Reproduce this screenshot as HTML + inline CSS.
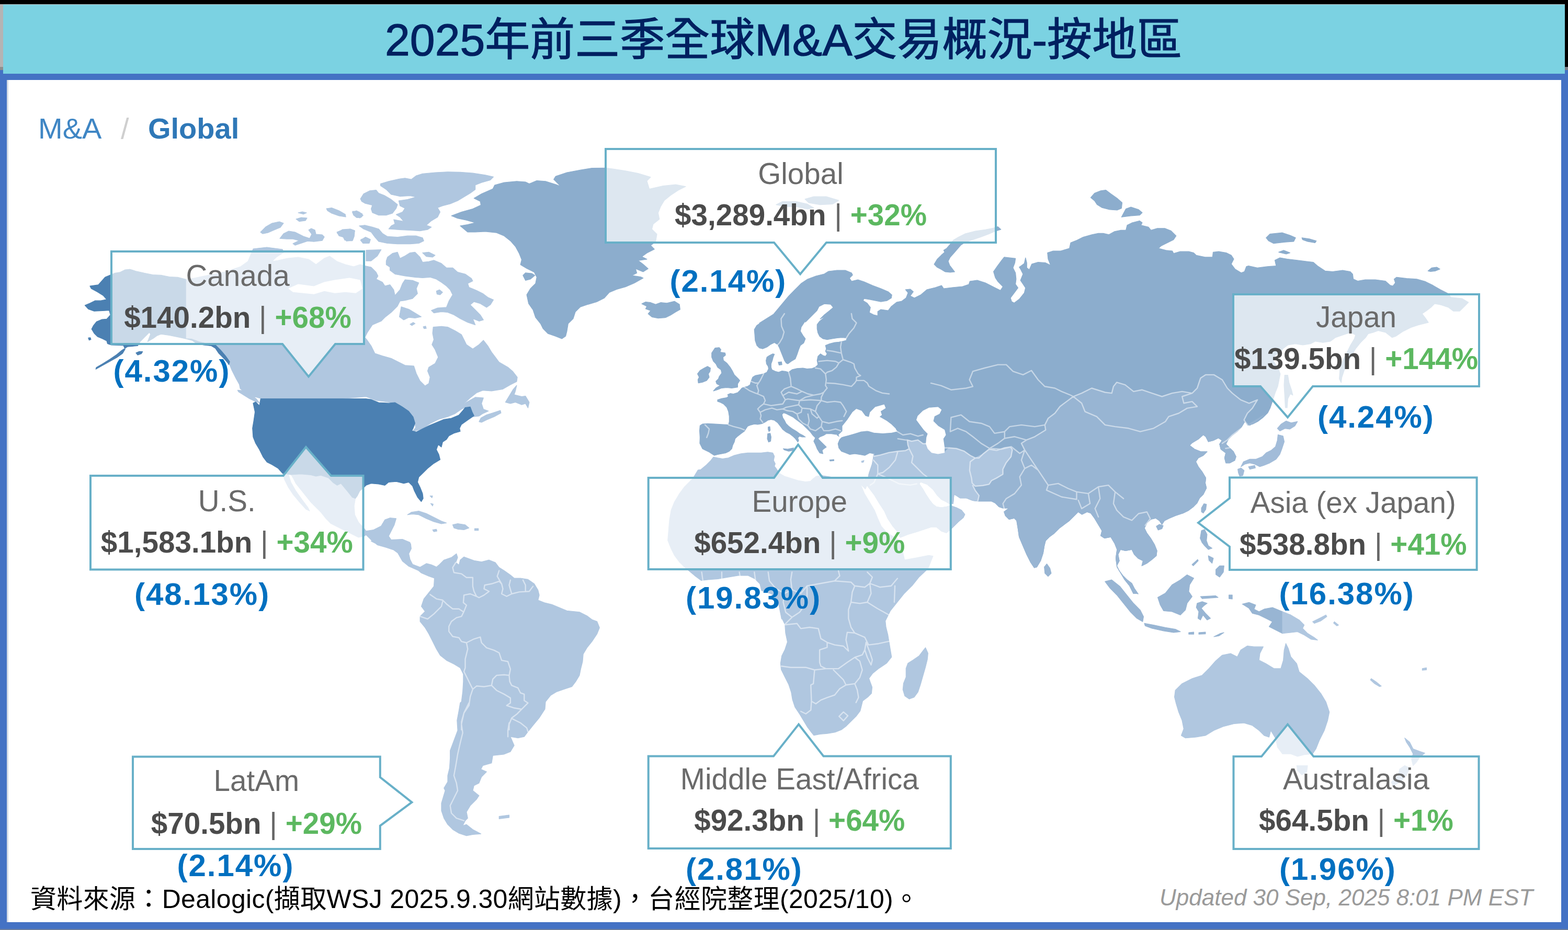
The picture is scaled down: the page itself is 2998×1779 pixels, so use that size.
<!DOCTYPE html>
<html lang="zh-Hant"><head><meta charset="utf-8"><title>2025年前三季全球M&amp;A交易概況-按地區</title>
<style>
html,body{margin:0;padding:0;background:#fff;}
body{width:2998px;height:1779px;position:relative;overflow:hidden;font-family:"Liberation Sans",sans-serif;}
#black{position:absolute;left:0;top:0;width:2998px;height:134px;background:#000;}
#grayl{position:absolute;left:0;top:8px;width:8px;height:121px;background:#b4b4b4;}
#grayl2{position:absolute;left:0;top:128px;width:8px;height:6px;background:#8e8e8e;}
#grayr2{position:absolute;left:2990px;top:128px;width:8px;height:6px;background:#7e7e86;}
#frame{position:absolute;left:0;top:134px;width:2998px;height:1644px;background:#4472c4;}
#botline{position:absolute;left:0;top:1777px;width:2998px;height:2px;background:#6d7f9f;}
#inner{position:absolute;left:13px;top:153px;width:2972px;height:1611px;background:#fff;}
#innerl{position:absolute;left:13px;top:153px;width:3px;height:1611px;background:#d5dbe6;}
#titlebar{position:absolute;left:6px;top:9px;width:2986px;height:132px;background:#7bd2e2;}
#grayt{position:absolute;left:0;top:8px;width:2992px;height:2px;background:#b7bcbd;}
svg{position:absolute;left:0;top:0;}
.t{position:absolute;white-space:nowrap;line-height:1;}
.nm{color:#6a6a6a;font-size:56.6px;text-align:center;}
.vl{color:#4b4b4b;font-size:56.6px;font-weight:bold;text-align:center;}
.vl i{font-style:normal;color:#5cb860;}
.vl b{font-weight:normal;color:#666;}
.sh{color:#0070c0;font-size:60px;font-weight:bold;letter-spacing:1.95px;}
</style></head><body>
<div id="black"></div><div id="grayt"></div><div id="grayl"></div><div id="grayl2"></div><div id="grayr2"></div>
<div id="frame"></div><div id="botline"></div><div id="inner"></div><div id="innerl"></div><div id="titlebar"></div>

<svg id="map" width="2998" height="1779" viewBox="0 0 2998 1779" xmlns="http://www.w3.org/2000/svg">
<path fill="#8cadcd" stroke="#8cadcd" stroke-width="1.2" stroke-linejoin="round" d="M999.9,526.7 1004.7,521.9 1016.7,523.1 1022.7,526.7 1014.3,533.9 1004.7,536.3Z M863.1,412.8 882.3,405.6 903.9,399.6 919.5,392.4 918.3,385.2 906.3,379.2 920.7,370.8 942.3,361.2 945.9,354.0 963.9,349.2 987.9,346.8 1004.7,348.0 1011.9,351.6 1026.3,345.6 1043.1,346.8 1062.3,352.8 1071.9,356.4 1058.7,343.2 1062.3,337.2 1083.9,330.0 1110.2,325.2 1131.8,321.6 1157.6,321.3 1172.0,323.2 1196.0,326.8 1220.0,331.6 1244.0,338.8 1236.8,346.0 1241.6,361.6 1267.9,355.6 1291.9,353.2 1311.1,356.8 1296.7,364.0 1282.3,373.6 1270.3,383.2 1263.1,395.2 1258.3,407.2 1260.7,419.2 1248.8,428.8 1246.4,438.3 1256.0,447.9 1253.6,462.3 1244.0,469.5 1251.2,476.7 1236.8,483.9 1227.2,491.1 1236.8,495.9 1220.0,498.3 1229.6,505.5 1239.2,513.9 1229.6,519.9 1215.2,513.9 1217.6,522.3 1208.0,527.1 1224.8,529.5 1229.6,531.9 1212.8,541.5 1196.0,548.7 1179.2,553.5 1164.8,559.5 1155.2,570.3 1140.8,577.5 1124.0,582.3 1109.6,587.1 1100.0,596.7 1095.9,609.5 1086.3,619.1 1083.9,633.5 1081.5,643.1 1074.3,647.9 1062.3,643.1 1047.9,638.3 1038.3,628.7 1033.5,619.1 1023.9,607.1 1019.1,592.7 1010.7,580.7 1007.1,563.9 1014.3,551.9 1023.9,542.3 1026.3,530.3 1021.5,520.7 1007.1,513.5 995.1,506.3 997.5,496.7 992.7,484.7 985.5,471.5 975.9,460.7 963.9,451.2 949.5,445.2 927.9,442.8 908.7,444.0 894.3,444.0 879.9,432.0 894.3,429.6 908.7,426.0 891.9,421.2 875.1,417.6Z M1483.9,391.6 1495.9,385.6 1522.3,385.6 1543.9,390.4 1555.9,397.6 1543.9,400.0 1522.3,395.2 1503.1,395.2Z M1539.1,380.8 1555.9,376.0 1579.8,376.0 1603.8,383.2 1591.8,390.4 1567.9,391.6 1546.3,388.0Z M1227.2,581.1 1234.4,577.5 1244.0,578.7 1253.6,582.3 1263.1,578.7 1275.1,579.9 1289.5,576.3 1299.1,582.3 1300.3,591.9 1291.9,596.7 1282.3,602.7 1272.7,607.5 1258.3,608.7 1246.4,606.3 1239.2,600.3 1244.0,594.3 1234.4,590.7 1236.8,585.9Z M1338.4,837.0 1337.6,823.9 1338.4,814.3 1343.2,811.1 1352.8,810.3 1367.2,811.1 1380.0,811.9 1392.8,812.7 1394.4,806.3 1394.4,796.7 1392.8,787.1 1389.6,779.1 1383.2,772.7 1376.8,769.5 1372.0,767.9 1372.0,764.7 1380.0,762.3 1389.6,760.7 1392.8,758.3 1391.2,755.1 1396.0,752.7 1402.4,753.5 1410.4,751.1 1415.2,746.3 1418.4,742.3 1423.2,740.7 1429.5,739.1 1434.3,735.9 1435.9,729.5 1439.1,721.6 1443.9,718.4 1451.9,716.8 1459.9,715.2 1466.3,712.0 1469.5,705.6 1468.7,700.8 1465.5,696.0 1464.7,689.6 1466.3,683.2 1471.1,680.0 1477.5,676.8 1480.7,677.6 1478.3,683.2 1476.7,689.6 1474.3,696.0 1474.3,702.4 1475.9,707.2 1482.3,710.4 1488.7,712.0 1495.1,709.6 1501.5,710.4 1507.9,712.0 1514.3,707.2 1523.9,704.8 1535.1,704.0 1543.1,705.6 1552.7,704.8 1559.1,702.4 1563.9,697.6 1562.3,689.6 1563.9,681.6 1568.7,676.8 1573.5,680.0 1578.3,681.6 1581.5,676.8 1578.3,672.0 1579.9,667.2 1578.3,660.8 1586.3,657.6 1595.9,655.2 1603.9,654.4 1611.9,652.8 1618.3,651.2 1619.1,646.4 1610.3,645.6 1600.7,646.4 1591.1,648.0 1581.5,649.6 1573.5,648.0 1567.1,643.2 1563.9,636.8 1562.3,628.8 1562.3,620.8 1567.1,614.4 1575.1,608.0 1583.1,603.2 1587.9,600.0 1568.1,610.1 1568.1,610.1 1576.1,602.1 1586.1,594.1 1593.2,588.1 1588.2,582.1 1576.1,581.1 1566.1,586.1 1562.1,594.1 1556.1,600.1 1548.1,608.1 1540.1,616.1 1554.3,600.0 1546.3,608.0 1538.3,616.0 1531.9,625.6 1530.3,633.6 1535.1,641.6 1539.9,648.0 1536.7,656.0 1530.3,660.8 1527.1,668.8 1523.9,678.4 1520.7,686.4 1512.7,691.2 1506.3,696.0 1503.1,694.4 1499.9,689.6 1496.7,681.6 1493.5,673.6 1490.3,665.6 1487.1,659.2 1480.7,655.2 1472.7,659.2 1466.3,664.0 1458.3,667.2 1451.9,665.6 1447.1,660.8 1443.9,651.2 1443.1,640.0 1442.3,630.4 1447.1,622.4 1456.7,616.0 1466.3,609.6 1475.9,603.2 1480.7,600.0 1452.0,618.1 1466.1,610.1 1478.1,602.1 1488.1,590.1 1498.1,578.1 1508.1,566.1 1520.1,554.0 1532.1,542.0 1544.1,534.0 1560.1,528.0 1576.1,524.0 1584.1,519.0 1600.2,517.0 1616.2,517.0 1628.2,522.0 1630.2,526.0 1624.2,532.0 1628.2,538.0 1640.2,535.0 1652.2,539.0 1668.2,546.0 1684.2,552.0 1698.2,558.0 1705.2,564.1 1704.2,570.1 1696.2,575.1 1684.2,577.1 1674.2,575.1 1664.2,573.1 1652.2,571.1 1650.2,575.1 1658.2,580.1 1664.2,588.1 1662.2,598.1 1670.2,602.1 1678.2,604.1 1678.2,596.1 1684.2,592.1 1698.2,594.1 1704.2,586.1 1714.3,578.1 1724.3,576.1 1732.3,570.1 1736.3,560.0 1731.3,554.0 1740.3,553.0 1746.3,558.0 1740.3,566.1 1748.3,570.1 1760.3,564.1 1772.3,554.0 1788.3,550.0 1800.3,546.0 1804.3,552.0 1820.3,550.0 1840.4,548.0 1852.4,544.0 1854.4,538.0 1868.4,536.0 1884.0,541.1 1903.2,550.7 1912.8,555.5 1917.6,548.3 1908.0,538.7 1903.2,531.5 1899.6,519.5 1908.0,507.5 1915.2,497.9 1920.0,491.9 1941.6,494.3 1940.4,502.7 1936.8,512.3 1941.6,521.9 1942.8,533.9 1941.6,543.5 1946.4,550.7 1939.2,560.3 1932.0,569.9 1934.4,577.1 1939.2,579.5 1948.8,572.3 1958.4,560.3 1960.8,550.7 1956.0,543.5 1951.2,536.3 1956.0,524.3 1951.2,514.7 1948.8,511.1 1958.4,503.9 1960.8,493.1 1963.2,502.7 1963.2,512.3 1968.0,515.9 1972.8,505.1 1984.8,501.5 1999.2,502.7 2008.8,507.5 2004.0,495.5 2002.8,483.6 2013.6,480.0 2027.9,480.0 2044.7,475.2 2047.1,464.4 2059.1,459.6 2071.1,453.6 2087.9,448.8 2099.9,446.4 2109.5,446.4 2120.3,448.8 2131.1,442.8 2143.1,440.4 2152.7,440.4 2155.1,430.8 2164.7,426.0 2179.1,422.4 2183.9,426.0 2181.5,430.8 2195.9,434.4 2200.7,440.4 2212.7,436.8 2227.1,436.8 2239.1,441.6 2248.7,451.2 2243.9,458.4 2231.9,464.4 2219.9,470.4 2215.1,475.2 2229.5,478.8 2241.5,480.0 2243.9,484.8 2255.9,481.2 2272.7,481.2 2282.3,483.6 2287.1,488.3 2303.9,491.9 2318.3,491.9 2319.5,482.4 2330.2,481.2 2344.6,483.6 2354.2,488.3 2359.0,495.5 2354.2,505.1 2361.4,514.7 2373.4,521.9 2379.4,519.5 2383.0,509.9 2387.2,508.7 2404.0,512.3 2423.2,509.9 2440.0,508.7 2437.6,497.9 2447.2,493.1 2461.6,495.5 2480.8,497.9 2500.0,500.3 2510.8,501.5 2519.2,508.7 2533.6,518.3 2547.9,519.5 2567.1,517.1 2581.5,519.5 2586.3,524.3 2587.5,533.9 2595.9,537.5 2610.3,535.1 2629.5,535.1 2648.7,537.5 2658.3,545.9 2663.1,547.1 2667.9,541.1 2665.5,533.9 2670.3,530.3 2689.5,532.7 2708.7,533.9 2725.5,538.7 2739.9,545.9 2754.3,554.3 2768.7,561.5 2774.2,568.8 2795.8,571.2 2807.8,578.4 2800.6,585.6 2791.0,595.2 2779.0,595.2 2769.4,588.0 2755.0,583.2 2743.1,580.8 2735.9,588.0 2726.3,595.2 2719.1,600.0 2726.3,609.6 2731.1,616.8 2711.9,621.6 2697.5,626.4 2683.1,633.6 2668.7,643.2 2661.5,645.6 2649.5,636.0 2635.1,632.4 2625.5,636.0 2615.9,638.4 2611.1,645.6 2601.5,655.2 2591.9,667.2 2584.7,679.2 2577.5,693.6 2570.3,707.9 2565.5,722.3 2564.3,731.9 2560.7,724.7 2561.9,707.9 2567.9,688.8 2575.1,674.4 2582.3,660.0 2589.5,648.0 2591.9,640.8 2582.3,636.0 2567.9,640.8 2553.5,645.6 2543.9,652.8 2529.5,655.2 2515.1,652.8 2505.5,657.6 2491.1,660.0 2476.7,657.6 2462.3,660.0 2452.7,667.2 2447.9,674.4 2438.3,679.2 2433.6,688.8 2443.1,703.1 2447.9,715.1 2445.5,727.1 2443.1,739.1 2438.3,751.1 2433.6,765.5 2428.8,779.9 2424.0,789.5 2414.4,799.1 2404.8,806.3 2395.2,811.1 2385.6,813.5 2415.9,794.4 2401.5,806.4 2389.5,813.6 2379.9,806.4 2372.7,818.4 2365.5,825.6 2355.9,832.8 2348.7,840.0 2343.9,849.6 2351.1,856.8 2358.3,864.0 2363.1,873.6 2360.7,880.8 2351.1,885.6 2343.9,885.6 2341.5,876.0 2343.9,866.4 2334.3,859.2 2331.9,849.6 2336.7,842.4 2329.5,837.6 2319.9,842.4 2310.3,844.8 2305.5,835.2 2300.7,831.6 2291.1,840.0 2279.1,847.2 2274.3,852.0 2283.9,859.2 2295.9,864.0 2307.9,864.0 2300.7,871.2 2291.1,876.0 2286.3,883.2 2291.1,892.8 2298.3,902.4 2305.5,914.4 2304.3,924.0 2306.7,933.6 2300.7,945.5 2293.5,952.7 2288.7,962.3 2281.5,969.5 2271.9,976.7 2262.3,981.5 2247.9,986.3 2236.0,991.1 2226.4,995.9 2221.6,1003.1 2216.8,995.9 2209.6,991.1 2200.0,993.5 2192.8,1000.7 2188.0,1010.3 2192.8,1019.9 2200.0,1029.5 2207.2,1041.5 2212.0,1053.5 2210.8,1063.1 2202.4,1070.3 2192.8,1077.5 2183.2,1082.3 2185.6,1072.7 2176.0,1067.9 2168.8,1060.7 2164.0,1051.1 2152.0,1053.5 2142.4,1051.1 2137.6,1060.7 2140.0,1072.7 2135.2,1082.3 2140.0,1091.9 2147.2,1101.5 2154.4,1108.7 2164.0,1115.9 2168.8,1125.5 2176.0,1136.0 2174.3,1135.5 2167.2,1135.5 2159.8,1120.7 2150.2,1108.7 2143.1,1096.7 2135.9,1084.7 2133.5,1067.9 2135.9,1051.1 2131.1,1039.1 2123.9,1027.1 2111.9,1029.5 2104.7,1024.7 2107.1,1015.1 2099.9,1003.1 2092.7,991.1 2085.5,981.5 2078.3,979.1 2068.7,983.9 2061.5,979.1 2054.3,986.3 2044.7,995.9 2035.1,1003.1 2025.5,1010.3 2015.9,1019.9 2006.3,1027.1 1999.1,1034.3 1996.7,1043.9 1994.3,1058.3 1989.5,1072.7 1982.3,1084.7 1977.5,1085.9 1970.3,1075.1 1963.1,1060.7 1955.9,1043.9 1948.7,1027.1 1946.3,1010.3 1943.9,995.9 1939.1,991.1 1929.5,993.5 1922.3,986.3 1919.9,979.1 1929.5,971.9 1917.5,971.9 1910.3,969.5 1903.1,962.3 1895.9,958.7 1881.5,958.7 1869.5,958.7 1859.9,957.5 1847.9,952.7 1836.0,952.7 1828.8,947.9 1824.0,945.5 1822.3,963.2 1815.9,964.0 1809.5,960.0 1799.9,955.2 1791.9,947.2 1783.9,936.0 1772.7,926.4 1759.9,921.6 1757.5,925.6 1764.7,936.0 1771.1,947.2 1777.5,956.8 1783.9,964.8 1790.3,969.6 1799.9,971.2 1809.5,969.6 1817.5,967.2 1828.7,971.2 1838.3,976.0 1844.7,984.0 1841.5,990.4 1831.9,998.4 1823.9,1006.3 1817.5,1012.7 1809.5,1019.1 1799.9,1015.9 1790.3,1007.9 1780.7,1007.9 1766.3,1012.7 1751.9,1017.5 1735.9,1022.3 1721.5,1027.9 1715.1,1015.9 1707.1,1006.3 1697.5,992.0 1691.1,977.6 1681.6,963.2 1672.0,947.2 1662.4,934.4 1657.6,928.0 1654.4,935.2 1647.6,928.0 1647.2,920.0 1659.9,914.3 1661.5,906.3 1664.7,896.7 1667.9,887.1 1669.5,877.5 1671.1,867.9 1663.1,866.3 1653.5,871.1 1643.9,869.5 1634.3,867.9 1624.7,869.5 1616.7,866.3 1608.7,863.2 1603.9,856.8 1602.3,848.8 1605.5,840.8 1610.3,836.0 1603.9,834.4 1599.1,831.2 1589.5,829.6 1579.9,829.6 1575.1,832.8 1567.1,836.0 1563.9,839.2 1570.3,845.6 1576.7,852.0 1579.9,855.2 1575.1,858.4 1571.9,861.6 1573.5,867.9 1567.1,866.3 1562.3,858.4 1559.1,850.4 1555.9,844.0 1559.1,837.6 1554.3,832.8 1549.5,826.4 1544.7,821.6 1539.9,816.8 1535.1,812.0 1528.7,807.2 1522.3,802.4 1515.9,797.6 1509.5,794.4 1503.1,791.2 1498.3,789.6 1495.1,792.8 1496.7,799.2 1499.9,804.0 1503.1,810.4 1507.9,815.2 1514.3,820.0 1522.3,824.8 1528.7,829.6 1535.1,832.8 1539.9,836.0 1533.5,836.0 1528.7,834.4 1525.5,837.6 1527.1,842.4 1525.5,845.6 1520.7,839.2 1515.9,834.4 1509.5,829.6 1503.1,826.4 1496.7,821.6 1491.9,815.2 1487.1,808.8 1480.7,804.0 1474.3,802.4 1467.9,804.0 1463.2,807.2 1456.8,810.4 1448.8,812.0 1442.4,811.2 1436.0,812.8 1429.6,815.2 1426.4,820.0 1423.2,824.8 1416.8,829.6 1410.4,834.4 1405.6,839.2 1404.0,845.6 1400.8,852.0 1399.2,858.4 1394.4,863.2 1388.0,866.3 1380.0,867.9 1372.0,869.5 1365.6,871.1 1360.8,867.9 1356.0,864.8 1349.6,861.6 1343.2,858.4 1338.0,848.0Z M1364.0,670.4 1367.2,665.6 1375.2,664.8 1378.4,668.8 1376.8,673.6 1386.4,675.2 1387.2,679.2 1382.4,683.2 1383.2,689.6 1389.6,694.4 1396.0,702.4 1400.8,710.4 1404.0,716.8 1412.0,724.8 1414.4,727.9 1410.4,734.3 1410.4,740.7 1399.2,742.3 1389.6,741.5 1380.0,742.3 1372.0,745.5 1364.0,747.9 1368.8,742.3 1376.8,737.5 1370.4,734.3 1368.8,729.5 1373.6,724.8 1375.2,720.0 1380.0,713.6 1378.4,707.2 1372.0,702.4 1368.8,696.0 1364.0,691.2 1360.8,683.2 1360.8,675.2Z M1333.6,715.2 1338.4,708.8 1346.4,704.0 1352.8,700.8 1358.4,704.0 1357.6,710.4 1354.4,715.2 1356.0,721.6 1351.2,727.9 1343.2,731.1 1335.2,732.7 1334.4,726.3 1336.8,721.6Z M1487.9,692.8 1494.3,692.0 1495.1,697.6 1489.5,698.4Z M1497.5,858.4 1506.3,859.2 1517.5,856.8 1515.9,861.6 1507.9,863.2 1499.9,860.8Z M1467.9,829.6 1472.7,828.8 1474.3,836.0 1473.5,844.0 1469.5,845.6 1467.1,839.2Z M1468.7,816.8 1471.9,816.0 1472.7,823.2 1470.3,825.6 1468.7,821.6Z M1586.3,879.9 1594.3,879.1 1594.3,881.5 1587.1,882.0Z M1786.1,505.6 1791.8,496.0 1799.5,488.3 1806.2,482.5 1804.3,478.7 1810.1,474.9 1816.8,467.2 1822.5,459.5 1832.1,453.7 1845.6,447.0 1864.8,442.2 1884.0,439.3 1898.3,436.5 1907.9,433.6 1913.7,438.9 1903.1,442.2 1889.7,448.0 1874.4,453.7 1860.0,458.5 1845.6,463.3 1836.9,469.1 1830.2,476.8 1823.5,484.5 1816.8,492.1 1812.9,499.8 1815.8,507.5 1821.6,515.2 1825.4,520.0 1816.8,520.9 1807.2,520.0 1799.5,515.2 1791.8,511.3Z M2085.5,378.0 2092.7,369.6 2104.7,364.8 2114.3,363.6 2123.9,370.8 2135.9,379.2 2145.5,387.6 2144.3,398.4 2135.9,402.0 2121.5,400.8 2107.1,397.2 2097.5,391.2 2092.7,384.0Z M2144.3,415.2 2152.7,399.6 2162.3,396.0 2176.7,400.8 2183.9,406.8 2179.1,411.6 2162.3,412.8Z M2420.8,454.8 2428.0,447.6 2452.0,445.2 2466.4,450.0 2477.2,454.8 2473.6,462.0 2456.8,463.2 2435.2,465.6 2425.6,460.8Z M2489.2,454.8 2504.8,457.2 2516.8,460.8 2514.4,464.4 2500.0,462.0 2490.4,458.4Z M2444.8,482.4 2454.4,478.8 2466.4,483.6 2459.2,486.0Z M2730.3,518.3 2737.5,512.3 2747.1,511.1 2753.1,514.7 2744.7,518.3 2735.1,519.5Z M2456.3,717.5 2462.3,717.5 2464.7,731.9 2469.5,746.3 2471.9,755.9 2467.1,753.5 2462.3,763.1 2461.1,779.9 2457.5,779.9 2456.3,755.9 2455.1,736.7Z"/>
<path fill="#98b5d3" stroke="#98b5d3" stroke-width="1.2" stroke-linejoin="round" d="M2415.9,794.4 2401.5,806.4 2389.5,813.6 2379.9,806.4 2372.7,818.4 2365.5,825.6 2355.9,832.8 2348.7,840.0 2343.9,849.6 2351.1,856.8 2358.3,864.0 2363.1,873.6 2360.7,880.8 2351.1,885.6 2343.9,885.6 2341.5,876.0 2343.9,866.4 2334.3,859.2 2331.9,849.6 2336.7,842.4 2329.5,837.6 2319.9,842.4 2310.3,844.8 2305.5,835.2 2300.7,831.6 2291.1,840.0 2279.1,847.2 2274.3,852.0 2283.9,859.2 2295.9,864.0 2307.9,864.0 2300.7,871.2 2291.1,876.0 2286.3,883.2 2291.1,892.8 2298.3,902.4 2305.5,914.4 2304.3,924.0 2306.7,933.6 2300.7,945.5 2293.5,952.7 2288.7,962.3 2281.5,969.5 2271.9,976.7 2262.3,981.5 2247.9,986.3 2236.0,991.1 2226.4,995.9 2221.6,1003.1 2216.8,995.9 2209.6,991.1 2200.0,993.5 2192.8,1000.7 2188.0,1010.3 2192.8,1019.9 2200.0,1029.5 2207.2,1041.5 2212.0,1053.5 2210.8,1063.1 2202.4,1070.3 2192.8,1077.5 2183.2,1082.3 2185.6,1072.7 2176.0,1067.9 2168.8,1060.7 2164.0,1051.1 2152.0,1053.5 2142.4,1051.1 2137.6,1060.7 2140.0,1072.7 2135.2,1082.3 2140.0,1091.9 2147.2,1101.5 2154.4,1108.7 2164.0,1115.9 2168.8,1125.5 2176.0,1136.0 2174.3,1135.5 2167.2,1135.5 2159.8,1120.7 2150.2,1108.7 2143.1,1096.7 2135.9,1084.7 2133.5,1067.9 2135.9,1051.1 2131.1,1039.1 2123.9,1027.1 2111.9,1029.5 2104.7,1024.7 2107.1,1015.1 2099.9,1003.1 2092.7,991.1 2085.5,981.5 2078.3,979.1 2068.7,983.9 2061.5,979.1 2054.3,986.3 2044.7,995.9 2035.1,1003.1 2025.5,1010.3 2015.9,1019.9 2006.3,1027.1 1999.1,1034.3 1996.7,1043.9 1994.3,1058.3 1989.5,1072.7 1982.3,1084.7 1977.5,1085.9 1970.3,1075.1 1963.1,1060.7 1955.9,1043.9 1948.7,1027.1 1946.3,1010.3 1943.9,995.9 1939.1,991.1 1929.5,993.5 1922.3,986.3 1919.9,979.1 1929.5,971.9 1917.5,971.9 1910.3,969.5 1903.1,962.3 1895.9,958.7 1881.5,958.7 1869.5,958.7 1869.5,958.7 1871.9,947.9 1864.7,938.3 1859.9,928.8 1858.7,924.0 1853.9,900.0 1855.1,883.2 1864.7,876.0 1879.1,868.8 1891.1,859.2 1905.5,861.6 1919.9,856.8 1931.9,854.9 1949.7,867.3 1959.3,860.9 1952.9,848.1 1962.5,841.7 1978.5,835.3 1999.3,822.5 1997.7,812.9 2004.1,800.1 2016.9,790.5 2026.5,777.7 2039.3,768.1 2052.1,758.5 2068.1,752.1 2087.3,742.5 2112.9,750.5 2125.7,752.1 2128.9,739.3 2135.3,731.3 2151.3,736.1 2167.3,748.9 2183.3,745.7 2202.5,752.1 2221.7,758.5 2240.9,752.1 2260.2,748.9 2279.4,752.1 2289.0,742.5 2295.4,723.3 2305.0,716.9 2321.0,716.9 2337.0,726.5 2346.6,742.5 2356.2,752.1 2372.2,764.9 2388.2,771.3 2404.2,764.9 2394.6,780.9 2385.0,790.5 2378.6,803.3 2385.0,812.9Z M2210.8,1006.7 2216.8,1003.1 2224.0,1005.5 2221.6,1011.5 2214.4,1013.9Z M2297.1,971.9 2301.9,963.5 2306.7,964.7 2305.5,974.3 2300.7,981.5 2297.1,979.1Z M2294.7,1029.5 2297.1,1015.1 2303.1,1012.7 2307.9,1022.3 2306.7,1034.3 2310.3,1043.9 2317.5,1048.7 2310.3,1051.1 2303.1,1043.9 2298.3,1037.9Z M2310.3,1063.1 2319.9,1067.9 2317.5,1077.5 2311.5,1071.5Z M2324.7,1089.5 2331.9,1082.3 2340.3,1082.3 2339.1,1094.3 2331.9,1103.9 2324.7,1099.1Z M2279.1,1079.9 2289.9,1070.3 2291.1,1072.7 2281.5,1082.3Z M1996.7,1084.7 2001.5,1078.7 2007.5,1087.1 2009.9,1096.7 2003.9,1102.7 1997.9,1096.7Z M2112.8,1112.4 2125.6,1109.2 2141.6,1122.0 2154.4,1138.0 2167.2,1154.0 2180.0,1166.8 2186.4,1179.6 2184.8,1189.2 2173.6,1182.8 2160.8,1170.0 2148.0,1154.0 2135.2,1138.0 2122.4,1125.2Z M2188.0,1192.4 2205.6,1195.6 2228.0,1200.4 2247.2,1203.6 2256.9,1208.4 2244.0,1210.0 2224.8,1206.8 2202.4,1202.0 2189.6,1197.2Z M2272.9,1210.0 2282.5,1209.1 2282.5,1213.2 2272.9,1213.2Z M2292.1,1210.0 2304.9,1209.1 2304.9,1212.6 2292.1,1213.2Z M2320.9,1218.0 2333.7,1211.6 2340.1,1210.0 2330.5,1216.4Z M2213.6,1142.8 2228.0,1134.8 2240.8,1118.8 2256.9,1109.2 2269.7,1099.6 2282.5,1106.0 2274.5,1118.8 2272.9,1131.6 2279.3,1141.2 2269.7,1154.0 2266.5,1166.8 2256.9,1176.4 2240.8,1170.0 2224.8,1168.4 2218.4,1157.2Z M2288.9,1154.0 2298.5,1150.8 2308.1,1154.0 2301.7,1158.8 2296.9,1163.6 2304.9,1173.2 2314.5,1182.8 2308.1,1186.0 2300.1,1176.4 2295.3,1186.0 2290.5,1182.8 2292.1,1170.0 2287.3,1162.0Z M2295.3,1141.2 2324.1,1139.6 2328.9,1142.8 2298.5,1145.1Z M2349.7,1138.0 2356.1,1138.0 2356.1,1146.0 2349.7,1145.1Z M2375.3,1155.6 2388.1,1152.4 2400.9,1157.2 2397.7,1165.2 2407.3,1170.0 2416.9,1165.2 2432.9,1162.0 2452.1,1170.0 2452.1,1211.6 2439.3,1205.2 2426.5,1198.8 2432.9,1189.2 2420.1,1182.8 2407.3,1176.4 2394.5,1173.2 2388.1,1163.6Z"/>
<path fill="#b0c7e0" stroke="#b0c7e0" stroke-width="1.2" stroke-linejoin="round" d="M727.6,351.6 743.2,346.8 764.8,342.0 774.4,340.8 786.4,343.2 796.0,336.0 807.9,332.4 831.9,330.0 855.9,328.8 879.9,329.3 903.9,331.2 927.9,334.8 943.5,338.4 937.5,344.4 920.7,349.2 908.7,354.0 908.7,362.4 899.1,369.6 887.1,376.8 875.1,384.0 860.7,390.0 846.3,393.6 836.7,397.2 841.5,405.6 836.7,415.2 824.7,422.4 815.1,430.8 824.7,434.4 817.5,439.2 803.1,441.6 784.0,440.4 760.0,439.2 743.2,438.0 748.0,432.0 755.2,428.4 752.8,420.0 772.0,423.6 764.8,415.2 757.6,410.4 769.6,405.6 774.4,398.4 764.8,393.6 762.4,384.0 779.2,381.6 796.0,376.8 784.0,374.4 764.8,375.6 748.0,372.0 738.4,362.4 727.6,355.2Z M689.2,380.4 695.2,370.8 707.2,364.8 719.2,363.6 724.0,369.6 736.0,374.4 748.0,381.6 760.0,391.2 757.6,398.4 750.4,408.0 738.4,411.6 724.0,411.6 712.0,406.8 709.6,399.6 712.0,392.4 697.6,388.8 691.6,385.2Z M686.8,432.0 697.6,430.8 712.0,434.4 724.0,438.0 731.2,446.4 740.8,452.4 760.0,453.6 779.2,451.2 796.0,451.2 807.9,454.8 810.3,460.7 800.7,465.5 784.0,466.7 760.0,466.7 740.8,465.5 724.0,461.9 716.8,453.6 709.6,444.0 695.2,438.0Z M673.6,405.6 682.0,403.2 692.8,409.2 691.6,415.2 682.0,416.4 676.0,411.6Z M644.8,446.4 654.4,439.2 668.8,438.0 678.4,441.6 676.0,453.6 673.6,460.7 659.2,459.5 654.4,450.0Z M689.2,459.5 698.8,453.6 708.4,458.3 704.8,465.5 694.0,465.5Z M807.9,483.5 819.9,482.3 831.9,488.3 827.1,491.9 815.1,490.7Z M738.4,499.1 740.8,491.9 750.4,484.7 760.0,482.3 764.8,494.3 774.4,489.5 784.0,483.5 793.6,482.3 803.1,491.9 807.9,501.5 819.9,500.3 829.5,497.9 843.9,503.9 853.5,512.3 865.5,512.3 875.1,520.7 889.5,524.3 901.5,532.7 903.9,537.5 894.3,542.3 896.7,549.5 911.1,555.5 923.1,561.5 932.7,568.7 943.5,573.5 937.5,583.1 930.3,587.9 918.3,580.7 906.3,577.1 899.1,583.1 908.7,592.7 918.3,602.3 924.3,611.9 915.9,614.3 903.9,609.5 908.7,621.5 894.3,616.7 879.9,609.5 867.9,602.3 855.9,597.5 843.9,596.3 829.5,598.7 824.7,593.9 836.7,589.1 853.5,587.9 858.3,575.9 865.5,563.9 860.7,554.3 853.5,547.1 843.9,539.9 834.3,533.9 822.3,530.3 807.9,531.5 793.6,530.3 774.4,527.9 755.2,524.3 745.6,517.1 745.6,511.1 738.4,506.3Z M700.0,478.7 728.8,477.5 721.6,489.5 709.6,499.1 700.0,499.1Z M767.2,586.7 781.6,591.5 793.6,598.7 805.5,605.9 793.6,608.3 781.6,607.1 772.0,611.9 763.6,605.9Z M834.3,556.7 840.3,554.3 846.3,559.1 841.5,563.9 835.5,562.7Z M784.0,620.3 790.0,616.7 793.6,619.1 787.6,622.7Z M809.1,625.1 813.9,623.9 815.1,628.2 810.8,628.7Z M357.0,535.1 390.0,528.1 430.1,520.1 460.1,510.1 474.1,500.0 484.1,476.0 510.1,473.0 540.2,477.0 542.2,483.0 528.2,492.0 520.1,500.0 532.2,498.0 550.2,494.0 570.2,492.0 590.2,496.0 604.2,506.1 620.2,494.0 630.2,490.0 644.2,500.0 660.3,506.1 676.3,510.1 688.3,506.1 697.9,508.7 697.6,508.7 709.6,511.1 719.2,520.7 722.8,527.9 719.2,533.9 731.2,539.9 736.0,547.1 745.6,544.7 752.8,554.3 755.2,565.1 764.8,554.3 769.6,542.3 774.4,535.1 788.8,536.3 800.7,541.1 796.0,551.9 798.3,561.5 788.8,571.1 774.4,574.7 764.8,575.9 760.0,585.5 748.0,597.5 736.0,607.1 728.8,614.3 712.0,621.5 702.4,635.9 697.6,645.5 701.2,649.6 709.6,661.6 716.8,676.0 731.2,680.8 748.0,685.6 762.4,692.8 774.4,698.8 791.2,700.0 796.0,714.4 803.1,728.8 812.7,738.3 819.9,733.6 822.3,721.6 817.5,709.6 819.9,702.4 831.9,695.2 837.9,683.2 831.9,668.8 825.9,659.2 829.5,649.6 827.1,637.6 828.3,625.6 843.9,624.4 855.9,625.6 870.3,632.8 882.3,640.0 887.1,649.6 891.9,659.2 903.9,667.6 915.9,659.2 924.3,650.8 932.7,661.6 939.9,673.6 947.1,683.2 954.3,692.8 971.1,702.4 980.7,710.8 989.1,721.6 987.9,730.0 975.9,736.0 961.5,744.3 939.9,747.9 923.1,746.7 911.1,751.5 899.1,761.1 887.1,771.9 879.9,779.1 891.9,769.5 908.7,759.9 924.3,761.1 920.7,771.9 924.3,782.7 933.9,786.3 923.1,791.1 915.9,795.9 905.1,797.1 900.3,788.7 899.1,779.1 889.5,779.1 882.3,782.7 870.3,791.1 855.9,797.1 839.1,801.9 822.3,810.3 807.9,819.9 788.8,825.9 794.8,817.5 791.2,803.1 781.6,788.7 764.8,779.1 745.6,769.5 719.2,765.9 700.0,758.7 640.0,763.5 499.2,762.4 483.2,757.6 467.2,749.6 459.2,743.2 457.6,735.2 451.2,724.0 443.2,708.0 436.8,692.0 424.0,677.6 414.4,664.8 437.5,697.5 439.1,691.9 431.1,680.7 421.5,669.5 411.9,659.9 395.9,657.5 379.9,653.5 367.1,648.7 355.1,647.9 355.1,534.4Z M454.4,746.4 464.0,747.2 476.8,753.6 489.6,762.4 496.0,770.4 489.6,768.8 476.8,762.4 464.0,754.4 456.0,749.6Z M915.9,806.7 919.5,799.5 930.3,793.5 942.3,789.9 956.7,785.1 957.9,789.9 944.7,797.1 930.3,803.1 920.7,807.9Z M966.3,769.5 973.5,757.5 980.7,745.5 987.9,737.1 985.5,747.9 983.1,755.1 997.5,758.7 1004.7,757.5 1011.9,769.5 1009.5,780.3 1004.7,771.9 997.5,774.3 985.5,769.5 975.9,771.9Z M498.0,444.1 508.1,434.0 520.1,427.0 534.1,424.0 542.1,427.0 536.1,435.0 524.1,440.0 512.1,445.1 502.0,447.1Z M535.1,456.1 542.1,447.1 552.1,442.0 564.1,444.1 580.1,452.1 592.1,456.1 596.1,448.1 590.1,440.0 595.1,437.0 602.1,440.0 604.1,448.1 616.1,449.1 620.1,453.1 616.1,460.1 600.1,462.1 588.1,461.1 576.1,465.1 564.1,469.1 560.1,466.1 572.1,460.1 560.1,457.1 548.1,457.1Z M566.1,419.0 576.1,416.0 587.1,417.0 584.1,422.0 572.1,423.6Z M570.1,407.0 578.1,405.0 586.1,407.0 580.1,409.6Z M624.1,399.0 634.2,397.6 648.2,403.0 660.2,410.0 661.2,415.0 648.2,413.0 634.2,408.0 626.1,403.0Z M674.2,404.0 686.2,405.0 694.2,412.0 688.2,417.0 680.2,415.0 675.2,409.0Z M644.2,444.1 656.2,439.0 670.2,438.0 678.2,441.0 677.2,452.1 674.2,460.1 662.2,461.1 658.2,454.1 648.2,451.1Z M690.2,458.1 700.2,454.1 708.2,458.1 706.2,465.1 694.2,465.1Z M556.0,906.7 575.2,905.5 594.4,907.2 604.0,909.6 613.6,907.9 627.9,912.7 637.5,922.3 644.7,927.1 651.9,923.5 663.9,937.9 673.5,949.9 679.5,953.5 677.1,967.9 678.3,984.7 685.5,999.1 696.3,1011.1 699.9,1015.9 714.3,1013.5 728.7,1006.3 735.9,994.3 745.5,990.7 757.5,991.9 753.9,1003.9 747.9,1015.9 743.1,1025.5 747.9,1032.7 769.5,1031.5 783.9,1037.5 786.3,1049.5 781.5,1059.1 783.9,1071.1 788.7,1080.7 800.7,1087.9 815.1,1085.5 824.7,1091.5 834.3,1097.5 843.9,1104.7 834.3,1107.1 819.9,1102.3 805.5,1096.0 795.9,1087.9 781.5,1080.7 771.9,1073.5 762.3,1059.1 752.7,1051.9 738.3,1047.1 721.5,1042.3 709.5,1032.7 699.9,1023.1 696.3,1025.5 685.5,1027.9 671.1,1020.7 651.9,1011.1 632.7,1001.5 623.1,991.9 613.6,979.9 604.0,970.3 594.4,960.7 584.8,948.7 575.2,936.7 565.6,924.7 560.8,915.1Z M540.4,905.5 551.2,906.7 556.0,922.3 565.6,939.1 577.6,955.9 588.4,970.3 592.0,977.5 584.8,973.9 572.8,960.7 560.8,946.3 551.2,931.9 544.0,917.5Z M779.1,984.7 786.3,979.9 800.7,977.5 815.1,982.3 829.5,989.5 843.9,996.7 853.5,1000.3 843.9,1002.0 829.5,997.9 815.1,991.9 800.7,984.7 788.7,983.5Z M865.5,1003.9 875.1,1001.5 889.5,1003.9 896.7,1009.9 887.1,1013.5 875.1,1012.3 867.9,1009.9Z M827.1,1013.5 834.3,1012.3 835.5,1015.9 829.5,1017.1Z M907.5,1011.1 914.7,1011.1 914.7,1014.7 907.5,1014.7Z M822.3,948.7 827.1,948.7 825.9,952.3Z M823.5,963.1 828.3,964.3 827.1,967.9Z M830.8,1088.0 839.2,1080.8 848.8,1071.2 863.1,1066.4 872.7,1059.2 875.1,1066.4 871.5,1076.0 877.5,1080.8 879.9,1071.2 887.1,1065.2 896.7,1068.8 906.3,1072.4 920.7,1074.8 935.1,1071.2 947.1,1076.0 954.3,1085.6 963.9,1091.6 975.9,1100.0 983.1,1106.0 995.1,1106.0 1009.5,1108.4 1021.5,1116.8 1028.7,1128.8 1031.1,1138.4 1028.7,1148.0 1040.7,1152.8 1055.1,1156.4 1069.5,1162.4 1083.9,1168.4 1107.9,1170.8 1122.3,1178.0 1131.9,1185.2 1141.5,1188.8 1146.3,1200.7 1141.5,1212.7 1131.9,1227.1 1122.3,1239.1 1115.1,1251.1 1113.9,1265.5 1110.3,1279.9 1107.9,1291.9 1100.7,1303.9 1093.5,1313.5 1079.1,1318.3 1064.7,1323.1 1052.7,1330.3 1043.1,1342.3 1043.1,1342.0 1041.9,1356.4 1031.1,1373.2 1019.1,1387.6 1009.5,1399.6 1002.3,1409.2 990.3,1411.6 975.9,1409.2 983.1,1426.0 975.9,1438.0 963.9,1442.8 942.3,1445.2 939.9,1459.6 923.1,1464.4 919.5,1471.6 930.3,1476.4 920.7,1486.0 915.9,1497.9 906.3,1502.7 903.9,1512.3 915.9,1521.9 911.1,1529.1 899.1,1541.1 891.9,1553.1 894.3,1565.1 889.5,1569.9 884.7,1579.5 891.9,1577.1 903.9,1586.7 919.5,1595.1 903.9,1596.3 891.9,1598.7 877.5,1593.9 865.5,1586.7 856.0,1577.1 848.8,1565.1 844.0,1550.7 844.0,1536.3 847.6,1524.3 851.2,1512.3 848.8,1507.5 856.0,1495.5 856.0,1483.6 859.5,1469.2 860.7,1450.0 860.7,1435.6 867.9,1416.4 875.1,1397.2 873.9,1378.0 877.5,1358.8 879.9,1344.4 882.3,1342.3 884.7,1323.1 885.9,1303.9 885.9,1289.5 879.9,1277.5 867.9,1270.3 853.6,1263.1 841.6,1253.5 834.4,1241.5 827.2,1227.1 820.0,1212.7 812.8,1200.7 803.2,1188.8 803.2,1179.2 812.8,1169.6 805.6,1160.0 810.4,1145.6 820.0,1133.6 829.6,1121.6 830.8,1102.4Z M785.2,1040.0 786.4,1049.6 781.6,1059.2 784.0,1070.0 788.8,1079.6 803.2,1085.1 815.2,1077.9 824.8,1080.3 833.9,1084.4 832.0,1097.6 820.0,1094.7 808.0,1091.6 800.8,1091.6 781.6,1083.2 769.6,1073.6 760.0,1056.8 748.0,1047.2 721.6,1041.2 709.6,1035.2Z M954.3,1561.5 973.5,1559.1 973.5,1563.9 954.3,1566.3Z M1671.1,872.8 1683.1,870.4 1699.9,865.6 1716.7,863.2 1731.1,862.0 1738.3,858.4 1735.9,851.2 1734.7,841.6 1743.1,844.0 1755.1,841.6 1764.7,848.8 1770.7,848.8 1774.3,858.4 1781.5,865.6 1793.5,868.0 1805.5,865.6 1814.4,856.8 1828.8,858.0 1843.1,862.8 1855.1,871.2 1864.7,876.0 1879.1,868.8 1891.1,859.2 1905.5,861.6 1919.9,856.8 1931.9,854.9 1935.5,860.4 1933.1,873.6 1923.5,885.6 1917.5,897.6 1917.5,907.2 1905.5,914.4 1895.9,919.2 1891.1,926.4 1879.1,928.8 1864.7,930.0 1859.9,928.8 1864.7,938.3 1871.9,947.9 1869.5,958.7 1859.9,957.5 1847.9,952.7 1836.0,952.7 1828.8,947.9 1824.0,945.5 1822.3,963.2 1815.9,964.0 1809.5,960.0 1799.9,955.2 1791.9,947.2 1783.9,936.0 1772.7,926.4 1759.9,921.6 1757.5,925.6 1764.7,936.0 1771.1,947.2 1777.5,956.8 1783.9,964.8 1790.3,969.6 1799.9,971.2 1809.5,969.6 1817.5,967.2 1828.7,971.2 1838.3,976.0 1844.7,984.0 1841.5,990.4 1831.9,998.4 1823.9,1006.3 1817.5,1012.7 1809.5,1019.1 1799.9,1015.9 1790.3,1007.9 1780.7,1007.9 1766.3,1012.7 1751.9,1017.5 1735.9,1022.3 1721.5,1027.9 1715.1,1015.9 1707.1,1006.3 1697.5,992.0 1691.1,977.6 1681.6,963.2 1672.0,947.2 1662.4,934.4 1657.6,928.0 1654.4,935.2 1647.6,928.0 1647.2,920.0 1659.9,914.3 1661.5,906.3 1664.7,896.7 1667.9,887.1 1669.5,877.5 1671.1,867.9Z M1647.1,882.3 1651.9,880.7 1651.1,883.9 1647.9,884.7Z M1364.0,874.3 1372.0,875.9 1381.6,877.5 1392.8,875.9 1404.0,871.1 1416.8,867.9 1429.6,866.3 1442.4,866.3 1455.2,866.3 1467.9,864.8 1477.5,866.3 1480.7,872.7 1479.1,880.7 1482.3,887.1 1480.7,891.9 1483.9,895.9 1490.3,905.5 1499.9,911.1 1512.7,915.1 1525.5,919.1 1539.9,921.5 1549.5,920.7 1554.3,915.9 1560.7,911.1 1570.3,909.5 1579.9,911.1 1595.9,913.5 1611.9,914.3 1627.9,913.5 1643.9,912.7 1653.5,913.5 1646.4,921.6 1646.4,928.8 1652.8,944.0 1662.4,960.0 1672.0,976.0 1678.4,992.0 1684.8,1006.3 1695.9,1019.1 1708.7,1027.1 1718.3,1032.7 1721.5,1039.9 1726.3,1055.9 1729.5,1071.1 1751.9,1067.1 1775.9,1062.3 1783.9,1063.9 1780.7,1071.9 1774.3,1087.9 1757.0,1104.1 1744.2,1120.1 1728.2,1136.1 1715.4,1152.1 1702.6,1168.1 1693.0,1187.3 1695.1,1180.0 1692.7,1187.2 1693.9,1199.2 1697.5,1213.6 1699.9,1228.0 1702.3,1242.4 1704.7,1256.8 1695.1,1268.8 1680.7,1278.4 1668.7,1288.0 1661.5,1297.6 1663.9,1304.8 1667.5,1314.4 1666.3,1326.4 1659.1,1333.6 1649.5,1340.7 1647.1,1350.3 1644.7,1359.9 1637.5,1369.5 1627.9,1379.1 1618.3,1388.7 1608.7,1395.9 1596.7,1400.7 1582.3,1403.1 1567.9,1404.3 1556.0,1406.7 1551.2,1400.7 1544.0,1391.1 1536.8,1379.1 1529.6,1367.1 1520.0,1352.7 1515.2,1338.3 1512.8,1324.0 1508.0,1309.6 1500.8,1295.2 1493.6,1280.8 1492.4,1268.8 1494.8,1254.4 1500.8,1242.4 1505.6,1228.0 1502.0,1211.2 1500.8,1194.4 1493.6,1180.0 1494.5,1184.1 1491.3,1168.1 1488.1,1152.1 1475.3,1136.1 1456.1,1129.7 1452.9,1116.9 1443.3,1107.3 1430.5,1100.9 1411.3,1100.9 1392.1,1104.1 1372.9,1107.3 1353.6,1108.9 1340.8,1110.5 1328.0,1100.9 1308.8,1084.9 1299.2,1075.3 1289.6,1062.5 1283.2,1049.7 1276.8,1033.6 1278.4,1014.4 1280.0,995.2 1283.2,976.0 1289.6,960.0 1299.2,944.0 1308.8,931.2 1324.8,915.2 1334.4,899.2 1340.0,898.3 1349.6,890.3 1359.2,880.7Z M1769.5,1238.8 1774.3,1249.6 1773.1,1261.6 1769.5,1276.0 1764.7,1292.8 1759.9,1309.6 1755.1,1324.0 1747.9,1333.6 1738.3,1337.1 1729.9,1331.2 1726.3,1319.2 1727.5,1307.2 1732.3,1295.2 1732.3,1278.4 1735.9,1268.8 1745.5,1262.8 1757.5,1254.4 1764.7,1244.8Z M2452.1,1170.0 2468.1,1176.4 2484.1,1186.0 2493.7,1195.6 2490.5,1202.0 2500.1,1211.6 2512.9,1219.6 2519.3,1224.4 2506.5,1222.8 2493.7,1214.8 2480.9,1208.4 2468.1,1210.0 2452.1,1211.6Z M2509.7,1189.2 2525.7,1181.2 2535.3,1176.4 2536.9,1179.6 2525.7,1187.6 2512.9,1192.4Z M2551.3,1189.2 2559.3,1195.6 2556.1,1197.2 2549.7,1191.8Z M2621.8,1298.1 2631.4,1304.5 2641.0,1312.5 2637.8,1313.4 2628.2,1307.7 2620.2,1300.6Z M2719.4,1278.9 2727.4,1277.3 2727.4,1281.4 2719.4,1282.1Z M2247.2,1320.5 2260.1,1307.7 2279.3,1298.1 2298.5,1291.7 2311.3,1278.9 2324.1,1264.5 2336.9,1253.3 2352.9,1250.1 2365.7,1256.5 2372.1,1243.6 2384.9,1235.6 2397.7,1237.2 2415.3,1237.2 2408.9,1250.1 2407.3,1262.9 2420.1,1269.3 2436.1,1278.9 2448.9,1278.9 2453.7,1262.9 2455.3,1243.6 2458.5,1230.8 2463.3,1240.4 2468.1,1256.5 2479.3,1269.3 2484.1,1285.3 2500.1,1298.1 2512.9,1310.9 2525.7,1326.9 2535.3,1342.9 2541.7,1362.1 2538.5,1378.1 2532.1,1397.3 2522.5,1416.5 2516.1,1432.5 2509.7,1442.1 2493.7,1443.7 2480.9,1446.9 2468.1,1442.1 2452.1,1442.1 2442.5,1429.3 2439.3,1413.3 2429.7,1397.3 2426.5,1410.1 2416.9,1406.9 2407.3,1397.3 2394.5,1387.7 2378.5,1382.9 2359.3,1384.5 2340.1,1389.3 2320.9,1397.3 2304.9,1406.9 2285.7,1410.1 2266.5,1411.7 2258.5,1406.9 2263.3,1394.1 2260.1,1378.1 2253.6,1362.1 2248.8,1346.1 2245.6,1333.3Z M2479.3,1464.5 2500.1,1464.5 2498.5,1477.3 2488.9,1482.1 2480.9,1474.1Z M2685.8,1411.7 2695.4,1419.7 2701.8,1432.5 2714.6,1437.3 2724.2,1440.5 2714.6,1448.5 2708.2,1458.1 2701.8,1464.5 2698.6,1451.7 2701.8,1442.1 2695.4,1429.3 2689.0,1419.7Z M2676.2,1470.9 2685.8,1464.5 2695.4,1469.3 2689.0,1483.7 2676.2,1496.5 2663.4,1502.9 2660.2,1496.5 2673.0,1483.7Z"/>
<path fill="#a2bcd9" stroke="#a2bcd9" stroke-width="1.2" stroke-linejoin="round" d="M2442.3,819.6 2449.5,811.2 2459.1,805.2 2468.7,808.8 2480.7,806.4 2475.9,814.8 2466.3,820.8 2456.7,819.6 2447.1,824.4Z M2443.5,831.6 2453.1,834.0 2455.5,844.8 2450.7,859.2 2447.1,868.8 2439.9,878.4 2427.9,885.6 2415.9,890.4 2408.7,892.8 2399.1,888.0 2389.5,885.6 2379.9,888.0 2372.7,892.8 2377.5,883.2 2389.5,878.4 2401.5,878.4 2413.5,873.6 2420.7,866.4 2430.3,861.6 2438.7,854.4 2442.3,842.4Z M2366.7,897.6 2372.7,895.2 2378.7,900.0 2376.3,909.6 2370.3,910.8 2367.9,904.8Z M2387.1,892.8 2399.1,890.4 2400.3,895.2 2389.5,897.6Z"/>
<path fill="#4b80b2" stroke="#4b80b2" stroke-width="1.2" stroke-linejoin="round" d="M355.1,534.4 339.9,530.4 323.9,529.6 307.9,526.4 291.9,525.6 275.9,522.4 261.6,519.2 248.8,515.2 239.2,516.0 229.6,520.8 220.0,522.4 210.4,526.4 200.8,530.4 194.4,537.6 188.0,544.8 172.0,547.2 174.4,552.0 186.4,558.4 197.6,565.6 204.0,572.8 192.8,575.2 181.6,575.2 172.0,580.0 162.4,584.0 168.8,591.2 180.0,595.2 196.0,594.4 208.8,593.6 211.2,602.4 204.0,610.4 194.4,611.2 184.8,615.2 178.4,623.2 175.2,629.5 180.0,637.5 186.4,643.9 196.0,647.9 204.0,651.9 205.6,657.5 212.8,659.9 236.0,660.7 239.2,667.9 234.4,675.9 223.2,683.9 208.8,691.9 194.4,699.9 183.2,706.3 184.0,703.1 196.0,695.9 210.4,687.1 223.2,678.3 232.8,670.3 244.0,663.1 263.2,661.5 267.9,653.5 277.5,643.9 285.5,635.9 287.9,639.1 282.3,653.5 293.5,647.1 299.9,642.3 307.9,639.1 323.9,641.5 339.9,644.7 355.1,647.9 367.1,651.1 376.7,657.5 389.5,659.9 403.9,661.5 411.9,666.3 418.3,675.9 427.9,685.5 435.9,694.3 437.5,697.5 439.1,691.9 431.1,680.7 421.5,669.5 411.9,659.9 395.9,657.5 379.9,653.5 367.1,648.7 355.1,647.9Z M260.0,675.1 266.3,672.4 272.7,672.7 270.3,676.7 263.2,679.1Z M168.8,646.3 172.8,645.9 173.9,649.5 170.4,650.7Z M498.4,762.8 699.9,762.8 709.5,764.0 723.9,770.0 743.1,771.2 755.1,770.0 769.5,778.4 781.5,786.8 789.9,797.6 793.5,809.6 789.9,819.2 787.5,824.0 795.9,826.4 807.9,820.4 819.9,814.4 834.3,808.4 848.7,802.4 863.1,800.0 877.5,794.0 884.7,785.6 889.5,779.6 899.1,778.4 902.7,788.0 906.3,795.2 894.3,803.6 882.3,812.0 878.7,819.2 879.9,825.2 867.9,828.8 858.3,833.6 853.5,840.8 846.3,845.6 843.9,855.2 837.9,850.4 834.3,860.0 839.1,869.6 841.5,879.2 829.5,886.4 817.5,896.0 807.9,905.5 800.7,912.7 798.3,922.3 803.1,931.9 807.9,943.9 809.1,953.5 805.5,959.5 798.3,951.1 792.3,939.1 788.7,929.5 781.5,922.3 771.9,924.7 757.5,921.1 743.1,922.3 735.9,928.3 723.9,925.9 709.5,924.7 699.9,928.3 696.3,931.9 687.9,939.1 683.1,948.7 679.5,953.5 673.5,951.1 663.9,939.1 651.9,924.7 644.7,928.3 637.5,923.5 627.9,913.9 613.6,909.1 604.0,910.8 594.4,908.4 575.2,906.7 556.0,907.9 540.4,905.5 532.0,896.0 520.0,888.8 510.4,884.0 503.2,874.4 496.0,860.0 488.8,848.0 484.0,836.0 482.8,819.2 485.2,804.8 487.6,788.0 484.0,771.2 488.8,768.8 496.0,776.0Z"/>
<path fill="#ffffff" stroke="#ffffff" stroke-width="1.2" stroke-linejoin="round" d="M552.2,552.1 570.2,544.1 600.2,548.1 620.2,540.1 640.2,536.1 668.3,532.1 688.3,536.1 692.3,552.1 680.3,560.1 660.3,558.1 640.2,560.1 620.2,556.1 600.2,562.1 580.2,560.1 560.2,558.1Z M1611.1,815.2 1620.7,803.2 1630.3,788.8 1637.5,782.8 1647.1,786.4 1654.3,796.0 1661.5,798.4 1663.9,788.8 1673.5,779.2 1690.3,774.4 1692.7,780.4 1683.1,786.4 1685.5,793.6 1680.7,797.2 1695.1,805.6 1704.7,812.8 1711.9,820.0 1714.3,824.8 1704.7,827.2 1687.9,828.4 1671.1,827.2 1659.1,823.6 1647.1,824.8 1635.1,828.4 1623.1,832.0 1613.5,834.4 1606.3,836.8 1603.9,832.0 1611.1,824.8Z M1755.1,796.0 1764.7,786.4 1776.7,780.4 1793.5,779.2 1799.5,784.0 1795.9,791.2 1786.3,796.0 1783.9,805.6 1793.5,815.2 1805.5,822.4 1807.9,832.0 1803.1,839.2 1805.5,856.0 1805.5,865.6 1793.5,868.0 1781.5,865.6 1774.3,858.4 1770.7,848.8 1771.9,836.8 1774.3,829.6 1767.1,822.4 1759.9,812.8 1752.7,803.2Z"/>
<path fill="none" stroke="#fff" stroke-opacity="0.5" stroke-width="2.4" stroke-linejoin="round" stroke-linecap="round" d="M871.5,1076.0 865.5,1085.6 867.9,1095.2 882.3,1097.6 891.9,1104.8 903.9,1104.8 903.9,1121.6 906.3,1131.2 911.1,1140.8 M911.1,1140.8 915.9,1143.2 925.5,1138.4 935.1,1131.2 925.5,1126.4 926.7,1119.2 939.9,1116.8 954.3,1112.0 959.1,1116.8 950.7,1102.4 954.3,1091.6 M959.1,1116.8 961.5,1126.4 959.1,1136.0 968.7,1140.8 978.3,1136.0 992.7,1132.4 1011.9,1131.2 1019.1,1121.6 M975.9,1109.6 973.5,1119.2 978.3,1136.0 M999.9,1109.6 1004.7,1119.2 1004.7,1131.2 M911.1,1140.8 899.1,1136.0 887.1,1138.4 885.9,1152.8 891.9,1157.6 887.1,1169.6 882.3,1179.2 872.7,1181.6 863.1,1188.8 858.3,1198.3 858.3,1207.9 865.5,1217.5 877.5,1219.9 882.3,1227.1 891.9,1229.5 M822.4,1137.2 834.4,1145.6 846.4,1148.0 853.6,1155.2 865.5,1164.8 877.5,1164.8 884.7,1169.6 M803.2,1179.2 817.6,1184.0 829.6,1174.4 844.0,1160.0 846.4,1150.4 M891.9,1229.5 906.3,1222.3 918.3,1218.7 920.7,1229.5 930.3,1239.1 944.7,1243.9 954.3,1248.7 959.1,1263.1 971.1,1265.5 975.9,1279.9 973.5,1291.9 974.7,1303.9 978.3,1311.1 990.3,1315.9 995.1,1325.5 1002.3,1327.9 1002.3,1339.9 1009.5,1344.7 997.5,1356.7 987.9,1366.3 978.3,1373.5 973.5,1385.5 973.5,1396.0 M891.9,1229.5 894.3,1241.5 889.5,1260.7 889.5,1277.5 887.1,1284.7 891.9,1294.3 899.1,1308.7 903.9,1318.3 M903.9,1318.3 911.1,1312.3 925.5,1313.5 939.9,1311.1 942.3,1299.1 949.5,1291.9 963.9,1290.7 973.5,1291.9 M939.9,1311.1 949.5,1320.7 963.9,1327.9 975.9,1335.1 975.9,1344.7 968.7,1349.5 983.1,1354.3 997.5,1356.7 M903.9,1318.3 899.1,1332.7 896.7,1349.5 887.1,1363.9 882.3,1380.7 882.3,1396.0 M896.7,1344.4 887.1,1363.6 882.3,1385.2 884.7,1402.0 879.9,1421.2 875.1,1442.8 871.5,1464.4 867.9,1483.6 872.7,1497.9 875.1,1512.3 867.9,1526.7 860.7,1541.1 863.1,1555.5 872.7,1565.1 887.1,1569.9 M973.5,1382.8 971.1,1397.2 971.1,1409.2 M978.3,1374.4 995.1,1382.8 1007.1,1392.4 1009.5,1399.6 M1499.9,1195.2 1523.9,1192.8 1531.1,1202.4 1547.9,1200.0 1564.7,1202.4 1569.5,1221.6 1581.5,1228.8 1581.5,1238.3 1567.1,1243.1 1567.1,1267.1 1569.5,1274.3 1579.1,1279.1 M1493.9,1274.3 1511.9,1276.7 1540.7,1276.7 1557.5,1281.5 1579.1,1279.1 M1581.5,1228.8 1595.9,1233.6 1612.7,1236.0 1622.3,1245.5 1617.5,1224.0 1619.9,1209.6 1634.3,1210.8 1653.5,1219.2 M1634.3,1210.8 1627.1,1200.0 1622.3,1183.2 1622.3,1166.4 1627.1,1152.0 1629.5,1132.8 1634.3,1120.8 1653.5,1123.2 1663.1,1116.0 M1627.1,1152.0 1643.9,1154.4 1658.3,1152.0 1677.5,1164.0 1699.1,1176.0 M1653.5,1219.2 1660.7,1233.6 1679.9,1231.2 1701.5,1226.4 M1663.1,1116.0 1665.5,1135.2 1658.3,1152.0 M1663.1,1116.0 1682.3,1123.2 1703.9,1120.8 1715.9,1106.4 M1711.1,1120.8 1709.9,1152.0 M1579.1,1279.1 1603.1,1279.1 1619.9,1267.1 1634.3,1257.5 1648.7,1252.7 1653.5,1243.1 1655.9,1228.8 1660.7,1233.6 M1655.9,1228.8 1663.1,1247.9 1667.9,1262.3 1665.5,1271.9 1658.3,1257.5 1653.5,1243.1 M1557.5,1281.5 1555.1,1307.9 1550.3,1310.3 1551.5,1341.5 1559.9,1346.3 1569.5,1339.1 1581.5,1334.3 1595.9,1329.5 1605.5,1317.5 1617.5,1310.3 1612.7,1300.7 1600.7,1288.7 1593.5,1281.5 M1617.5,1310.3 1634.3,1307.9 1643.9,1295.9 1648.7,1281.5 1643.9,1264.7 1634.3,1257.5 M1551.5,1341.5 1550.3,1358.3 1540.7,1365.5 1531.1,1360.7 M1634.3,1307.9 1639.1,1319.9 1641.5,1334.3 1636.7,1343.9 M1604.3,1370.3 1612.7,1361.9 1621.1,1369.1 1612.7,1378.7 1604.3,1370.3 M1468.7,1094.4 1471.1,1111.2 1483.1,1125.6 1499.9,1135.2 1514.3,1128.0 1511.9,1108.8 1514.3,1094.4 M1514.3,1128.0 1531.1,1135.2 1543.1,1120.8 1569.5,1116.0 1595.9,1111.2 1627.1,1113.6 1634.3,1120.8 M1499.9,1135.2 1497.5,1152.0 1502.3,1171.2 1514.3,1180.8 1528.7,1171.2 1543.1,1152.0 1543.1,1120.8 M1514.3,1180.8 1499.9,1195.2 M1595.9,1111.2 1605.5,1101.6 1603.1,1092.0 M1663.1,1116.0 1667.9,1104.0 1658.3,1094.4 M1341.6,1094.4 1344.0,1111.2 M1380.0,1094.4 1380.0,1106.4 M1413.6,1094.4 1416.0,1108.8 M1442.3,1094.4 1444.7,1111.2 M1499.9,600.0 1493.5,609.6 1494.3,624.0 1499.1,635.2 1495.9,646.4 1490.3,656.0 1485.5,660.8 M1627.9,600.0 1629.5,609.6 1637.5,617.6 1632.7,627.2 1623.1,638.4 1618.3,646.4 M1608.7,654.4 1607.1,664.0 1608.7,675.2 1611.9,688.0 1626.3,692.8 1632.7,696.0 1634.3,704.0 1640.7,715.2 1645.5,718.4 1637.5,721.6 1637.5,727.9 1651.9,727.9 1658.3,732.7 1661.5,739.1 1674.3,747.1 1687.0,751.9 1700.0,753.5 M1581.5,670.4 1592.7,672.0 1607.1,675.2 M1565.5,691.2 1581.5,689.6 1597.5,691.2 1603.9,694.4 1611.9,688.0 M1603.9,694.4 1599.1,702.4 1591.1,708.8 1581.5,712.0 1578.3,715.2 1579.9,726.3 1578.3,737.5 1581.5,742.3 M1559.1,704.0 1568.7,705.6 1578.3,715.2 M1512.7,739.1 1523.9,743.9 1533.5,748.7 1544.7,753.5 1555.9,755.9 1568.7,753.5 1575.1,750.3 1581.5,742.3 M1507.9,712.0 1511.1,723.2 1512.7,739.1 M1581.5,732.7 1595.9,733.5 1611.9,735.9 1627.9,739.1 1634.3,732.7 1637.5,727.9 M1575.1,750.3 1570.3,759.9 1570.3,766.3 1581.5,769.5 1595.9,767.9 1607.1,769.5 1611.9,775.9 1618.3,787.1 1613.5,796.7 M1459.9,715.2 1453.5,727.9 1447.1,737.5 1450.3,747.1 1448.7,753.5 1459.9,758.3 1463.1,766.3 1459.9,772.7 M1459.9,772.7 1474.3,775.9 1485.5,774.3 1496.7,772.7 1501.5,764.7 1496.7,756.7 1493.5,750.3 1499.9,743.9 1512.7,739.1 M1423.2,740.7 1432.7,747.1 1443.9,751.9 1448.7,753.5 M1435.9,729.5 1443.9,732.7 1450.3,732.7 M1459.9,772.7 1453.5,777.5 1448.7,782.3 1453.5,788.7 1455.1,795.1 1453.5,801.5 1458.3,807.9 M1392.8,812.7 1402.4,815.9 1415.2,819.1 1423.2,822.3 M1348.0,812.7 1356.0,820.7 1354.4,828.7 1351.2,837.0 M1501.5,764.7 1506.3,763.1 1528.7,766.3 1527.1,774.3 1503.1,779.1 1496.7,782.3 M1496.7,756.7 1507.9,750.3 1523.9,753.5 1533.5,748.7 M1528.7,766.3 1539.9,759.9 1555.9,755.9 M1453.5,788.7 1463.1,783.9 1475.9,780.7 1485.5,783.9 1496.7,782.3 1504.7,785.5 M1528.7,766.3 1549.5,764.7 1570.3,766.3 1562.3,775.9 1559.1,787.1 1565.5,796.7 1571.9,806.3 1584.7,809.5 1599.1,806.3 1610.3,804.7 M1527.1,774.3 1533.5,780.7 1549.5,782.3 1559.1,787.1 M1504.7,785.5 1515.9,787.1 1523.9,791.9 1531.9,788.7 1533.5,780.7 M1523.9,791.9 1527.1,801.5 1535.1,809.5 1544.7,814.3 1549.5,820.7 M1544.7,791.9 1547.1,804.7 1544.7,814.3 M1549.5,782.3 1552.7,791.9 1562.3,799.9 1565.5,796.7 M1571.9,806.3 1570.3,815.9 1575.1,823.9 1584.7,823.9 1597.5,820.7 1607.1,823.9 M1549.5,820.7 1559.1,823.9 1570.3,815.9 M1780.0,732.9 1799.2,737.7 1818.4,745.7 1847.2,742.5 1860.0,739.3 1853.6,726.5 1860.0,710.4 1882.4,704.0 1908.0,697.6 1924.0,697.6 1936.9,710.4 1956.1,716.9 1972.1,708.8 1984.9,726.5 1997.7,739.3 2016.9,742.5 2029.7,748.9 2045.7,755.3 2052.1,758.5 M2385.0,812.9 2378.6,803.3 2385.0,790.5 2394.6,780.9 2404.2,764.9 2388.2,771.3 2372.2,764.9 2356.2,752.1 2346.6,742.5 2337.0,726.5 2321.0,716.9 2305.0,716.9 2295.4,723.3 2289.0,742.5 2279.4,752.1 2260.2,748.9 2240.9,752.1 2221.7,758.5 2202.5,752.1 2183.3,745.7 2167.3,748.9 2151.3,736.1 2135.3,731.3 2128.9,739.3 2125.7,752.1 2112.9,750.5 2087.3,742.5 2068.1,752.1 2052.1,758.5 2039.3,768.1 2026.5,777.7 2016.9,790.5 2004.1,800.1 1997.7,812.9 1999.3,822.5 1978.5,835.3 1962.5,841.7 1952.9,848.1 1959.3,860.9 1949.7,867.3 M2052.1,758.5 2068.1,771.3 2074.5,787.3 2096.9,796.9 2112.9,812.9 2132.1,816.1 2157.7,819.3 2180.1,825.7 2205.7,819.3 2228.1,806.5 2234.5,796.9 2253.8,790.5 2269.8,780.9 2289.0,777.7 2279.4,768.1 2263.4,771.3 2260.2,758.5 2279.4,752.1 M1818.4,798.5 1837.6,793.7 1853.6,806.5 1876.0,809.7 1892.0,816.1 1901.6,828.9 1920.8,825.7 1930.4,816.1 1952.9,812.9 1978.5,816.1 1997.7,812.9 M1818.4,798.5 1816.8,825.7 1831.2,819.3 1847.2,825.7 1860.0,835.3 1876.0,848.1 1892.0,857.7 1908.0,848.1 1920.8,838.5 1920.8,825.7 M1892.0,857.7 1914.4,859.3 1933.6,854.5 1949.7,867.3 M1920.8,838.5 1940.1,835.3 1962.5,841.7 M1959.3,860.9 1972.1,880.1 1984.9,899.3 1997.7,918.5 2004.1,928.1 2023.3,924.9 2042.5,934.5 2058.5,940.9 2080.9,944.1 2100.1,931.3 2119.3,928.1 2132.1,940.9 2148.1,953.7 M2004.1,928.1 2000.9,937.7 2029.7,950.5 2058.5,955.3 2058.5,940.9 M1959.3,896.1 1949.7,912.1 1952.9,928.1 1940.1,944.1 1924.0,953.7 1917.6,963.3 1920.8,976.1 M1959.3,860.9 1952.9,880.1 1959.3,896.1 1972.1,889.7 1984.9,899.3 M2132.1,940.9 2128.9,963.3 2135.3,976.1 2148.1,988.9 2164.1,995.3 2176.9,982.5 2192.9,979.3 2199.3,992.1 2189.7,1004.9 M2080.9,944.1 2084.1,963.3 2068.1,972.9 2061.7,956.9 M2100.1,931.3 2103.3,953.7 2093.7,972.9 2100.1,988.9 M2337.0,848.1 2346.6,841.7 2356.2,832.1 2369.0,822.5 2381.8,812.9 M2343.4,857.7 2353.0,856.1 2359.4,860.9 M1857.5,914.4 1853.9,900.0 1855.1,883.2 1864.7,876.0 1871.9,876.0 1879.1,868.8 1891.1,859.2 1905.5,861.6 1919.9,856.8 1931.9,854.9 1935.5,860.4 1933.1,873.6 1923.5,885.6 1917.5,897.6 1917.5,907.2 1905.5,914.4 1895.9,919.2 1891.1,926.4 1879.1,928.8 1864.7,930.0 1858.7,924.0 1857.5,914.4 M1859.9,928.8 1864.7,938.3 1871.9,947.9 1869.5,958.7 M1671.1,872.8 1683.1,870.4 1699.9,865.6 1716.7,863.2 1731.1,862.0 1738.3,858.4 1735.9,851.2 1734.7,841.6 1743.1,844.0 1755.1,841.6 1764.7,848.8 1770.7,848.8 M1804.8,856.8 1814.4,856.8 1828.8,858.0 1843.1,862.8 1855.1,871.2 1864.7,876.0 M1738.3,858.4 1745.5,872.8 1743.1,884.8 1752.7,894.4 1764.7,906.4 1774.3,913.6 M1716.7,863.2 1711.9,880.0 1699.9,894.4 1687.9,904.0 1678.3,906.4 M1678.3,906.4 1695.1,913.6 1719.1,925.5 1740.7,927.9 1752.7,925.5 M1669.9,880.0 1678.3,889.6 1678.3,906.4 1671.1,923.1 1663.9,927.9 M1714.3,824.8 1726.3,832.0 1740.7,829.6 1755.1,834.4 1764.7,832.0 M1716.7,839.2 1731.1,841.6 1734.7,841.6 M1599.1,832.0 1591.9,839.2 1596.7,844.0"/>
</svg>
<svg id="co" width="2998" height="1779" viewBox="0 0 2998 1779" xmlns="http://www.w3.org/2000/svg">
<path d="M1158.0 285.0 L1904.0 285.0 L1904.0 464.0 L1580.0 464.0 L1530.0 524.4 L1480.0 464.0 L1158.0 464.0Z" fill="rgba(255,255,255,0.70)" stroke="#68b0c8" stroke-width="4.0" stroke-linejoin="miter"/>
<path d="M213.0 481.0 L696.0 481.0 L696.0 658.0 L641.0 658.0 L590.0 720.4 L540.0 658.0 L213.0 658.0Z" fill="rgba(255,255,255,0.70)" stroke="#68b0c8" stroke-width="4.0" stroke-linejoin="miter"/>
<path d="M2358.0 563.0 L2828.0 563.0 L2828.0 739.0 L2510.0 739.0 L2462.0 798.4 L2410.0 739.0 L2358.0 739.0Z" fill="rgba(255,255,255,0.70)" stroke="#68b0c8" stroke-width="4.0" stroke-linejoin="miter"/>
<path d="M173.0 910.0 L541.6 910.0 L585.0 855.1 L633.0 910.0 L694.5 910.0 L694.5 1089.6 L173.0 1089.6Z" fill="rgba(255,255,255,0.70)" stroke="#68b0c8" stroke-width="4.0" stroke-linejoin="miter"/>
<path d="M1239.7 914.0 L1480.0 914.0 L1526.0 850.6 L1573.0 914.0 L1817.8 914.0 L1817.8 1089.0 L1239.7 1089.0Z" fill="rgba(255,255,255,0.70)" stroke="#68b0c8" stroke-width="4.0" stroke-linejoin="miter"/>
<path d="M2351.0 913.6 L2823.6 913.6 L2823.6 1090.0 L2351.0 1090.0 L2351.0 1045.7 L2291.1 1000.0 L2351.0 953.0Z" fill="rgba(255,255,255,0.70)" stroke="#68b0c8" stroke-width="4.0" stroke-linejoin="miter"/>
<path d="M254.0 1447.5 L726.8 1447.5 L726.8 1486.8 L787.4 1534.6 L726.8 1579.6 L726.8 1624.0 L254.0 1624.0Z" fill="rgba(255,255,255,0.70)" stroke="#68b0c8" stroke-width="4.0" stroke-linejoin="miter"/>
<path d="M1239.7 1446.5 L1479.0 1446.5 L1527.0 1385.6 L1574.5 1446.5 L1817.8 1446.5 L1817.8 1623.0 L1239.7 1623.0Z" fill="rgba(255,255,255,0.70)" stroke="#68b0c8" stroke-width="4.0" stroke-linejoin="miter"/>
<path d="M2358.5 1447.0 L2412.0 1447.0 L2462.0 1385.6 L2511.5 1447.0 L2827.5 1447.0 L2827.5 1624.0 L2358.5 1624.0Z" fill="rgba(255,255,255,0.70)" stroke="#68b0c8" stroke-width="4.0" stroke-linejoin="miter"/>
<text x="736" y="105.8" font-family="'Liberation Sans','Noto Sans CJK TC',sans-serif" font-size="86" fill="#002060" stroke="#002060" stroke-width="1.2" textLength="1524" lengthAdjust="spacing">2025年前三季全球M&amp;A交易概況-按地區</text>
<text x="58" y="1736.6" font-family="'Liberation Sans','Noto Sans CJK TC',sans-serif" font-size="50" fill="#000" textLength="1700" lengthAdjust="spacing">資料來源：Dealogic(擷取WSJ 2025.9.30網站數據)，台經院整理(2025/10)。</text>
</svg>
<div class="t" style="left:73px;top:217.5px;font-size:56px;color:#3f86c4;">M&amp;A</div>
<div class="t" style="left:231px;top:217.5px;font-size:56px;color:#cfcfcf;">/</div>
<div class="t" style="left:283px;top:217.5px;font-size:56px;color:#2f78b7;font-weight:bold;">Global</div>
<div class="t nm" style="left:1131.0px;top:304.6px;width:800px;">Global</div>
<div class="t vl" style="left:1131.0px;top:383.7px;width:800px;">$3,289.4bn <b>|</b> <i>+32%</i></div>
<div class="t nm" style="left:54.5px;top:499.7px;width:800px;">Canada</div>
<div class="t vl" style="left:54.5px;top:580.1px;width:800px;">$140.2bn <b>|</b> <i>+68%</i></div>
<div class="t nm" style="left:2193.0px;top:578.9px;width:800px;">Japan</div>
<div class="t vl" style="left:2193.0px;top:659.1px;width:800px;">$139.5bn <b>|</b> <i>+144%</i></div>
<div class="t nm" style="left:33.8px;top:930.6px;width:800px;">U.S.</div>
<div class="t vl" style="left:33.8px;top:1009.9px;width:800px;">$1,583.1bn <b>|</b> <i>+34%</i></div>
<div class="t nm" style="left:1128.8px;top:931.5px;width:800px;">Europe</div>
<div class="t vl" style="left:1128.8px;top:1010.8px;width:800px;">$652.4bn <b>|</b> <i>+9%</i></div>
<div class="t nm" style="left:2187.3px;top:933.8px;width:800px;">Asia (ex Japan)</div>
<div class="t vl" style="left:2187.3px;top:1014.4px;width:800px;">$538.8bn <b>|</b> <i>+41%</i></div>
<div class="t nm" style="left:90.4px;top:1466.4px;width:800px;">LatAm</div>
<div class="t vl" style="left:90.4px;top:1548.3px;width:800px;">$70.5bn <b>|</b> <i>+29%</i></div>
<div class="t nm" style="left:1128.8px;top:1462.8px;width:800px;">Middle East/Africa</div>
<div class="t vl" style="left:1128.8px;top:1542.1px;width:800px;">$92.3bn <b>|</b> <i>+64%</i></div>
<div class="t nm" style="left:2193.0px;top:1462.8px;width:800px;">Australasia</div>
<div class="t vl" style="left:2193.0px;top:1542.1px;width:800px;">$64.5bn <b>|</b> <i>+1%</i></div>
<div class="t sh" style="left:1280.5px;top:508.2px;">(2.14%)</div>
<div class="t sh" style="left:216.6px;top:680.2px;">(4.32%)</div>
<div class="t sh" style="left:2519.0px;top:768.2px;">(4.24%)</div>
<div class="t sh" style="left:257.0px;top:1107.2px;">(48.13%)</div>
<div class="t sh" style="left:1311.0px;top:1114.2px;">(19.83%)</div>
<div class="t sh" style="left:2445.6px;top:1106.0px;">(16.38%)</div>
<div class="t sh" style="left:338.6px;top:1626.0px;">(2.14%)</div>
<div class="t sh" style="left:1311.0px;top:1632.7px;">(2.81%)</div>
<div class="t sh" style="left:2446.0px;top:1632.7px;">(1.96%)</div>
<div class="t" style="left:2217px;top:1695px;font-size:44px;font-style:italic;color:#9a9a9a;">Updated 30 Sep, 2025 8:01 PM EST</div>
</body></html>
